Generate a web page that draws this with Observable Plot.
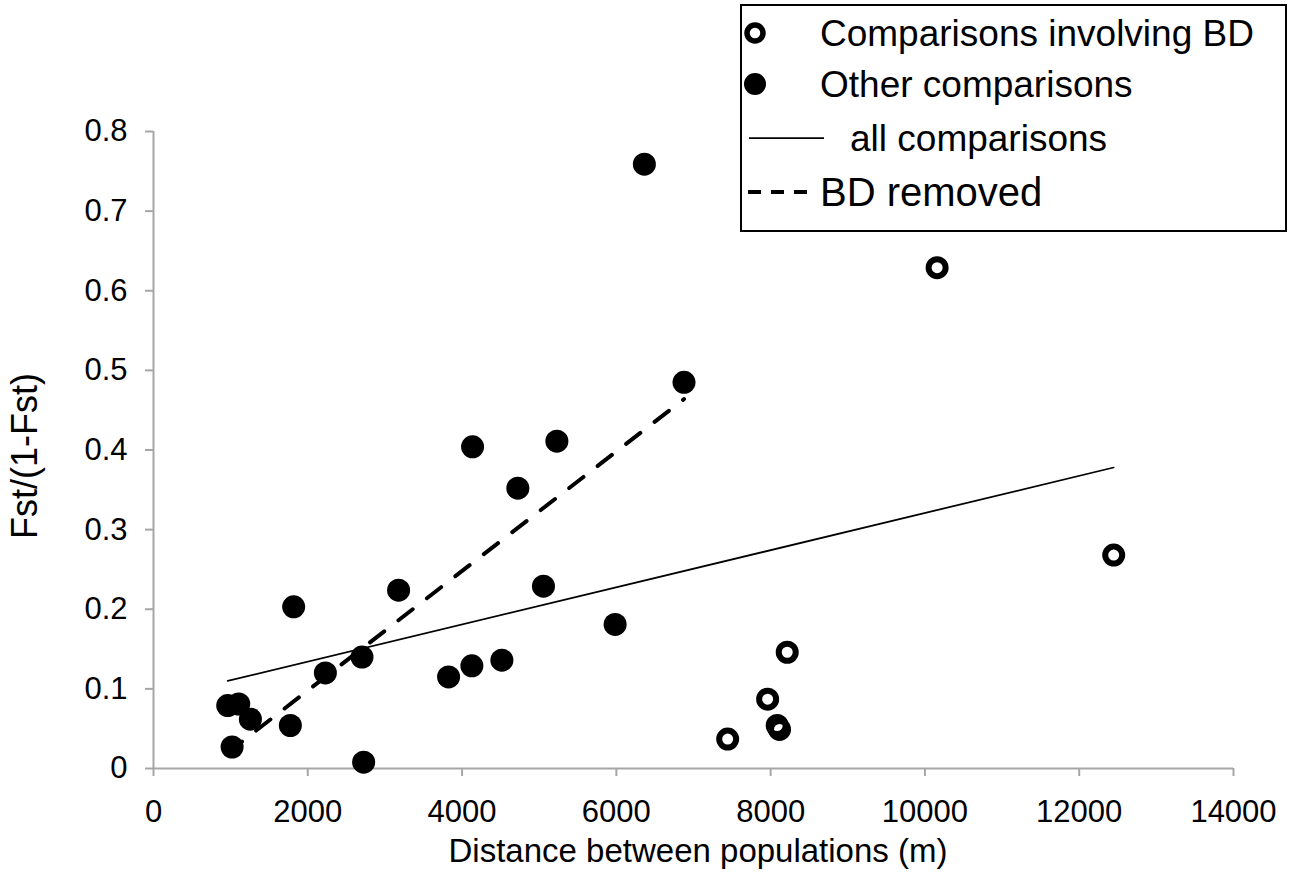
<!DOCTYPE html>
<html>
<head>
<meta charset="utf-8">
<script src="https://cdn.jsdelivr.net/npm/d3@7"></script>
<script src="https://cdn.jsdelivr.net/npm/@observablehq/plot@0.6"></script>
<style>
  body { margin: 0; background: #fff; font-family: "Liberation Sans", Arial, sans-serif; }
  #wrap { position: relative; width: 1295px; height: 873px; overflow: hidden; }
  #legend { position: absolute; left: 740px; top: 4px; }
</style>
</head>
<body>
<div id="wrap"></div>
<script>
// ---- Data ----
const otherX = [962, 1105, 1256, 1019, 1817, 1774, 2228, 2703, 2724, 3177, 3825, 4127, 4516, 5055, 5984, 4136, 5229, 4723, 6877, 6363];
const otherY = [0.079, 0.081, 0.062, 0.027, 0.203, 0.054, 0.120, 0.140, 0.008, 0.224, 0.115, 0.129, 0.136, 0.229, 0.181, 0.404, 0.411, 0.352, 0.485, 0.759];

const bdX = [7443, 7961, 8085, 8115, 8215, 10158, 12447];
const bdY = [0.037, 0.087, 0.054, 0.049, 0.146, 0.629, 0.268];

const trendAllX = [962, 12447];
const trendAllY = [0.110, 0.378];
const trendNoBdX = [962, 6877];
const trendNoBdY = [0.020, 0.464];

const xTicks = [0, 2000, 4000, 6000, 8000, 10000, 12000, 14000];
const yTicks = [0, 0.1, 0.2, 0.3, 0.4, 0.5, 0.6, 0.7, 0.8];

const legendLabels = ["Comparisons involving BD", "Other comparisons", "all comparisons", "BD removed"];
const xTitle = "Distance between populations (m)";
const yTitle = "Fst/(1-Fst)";

// ---- Build tables ----
const other = otherX.map((x, i) => ({x, y: otherY[i]}));
const bd = bdX.map((x, i) => ({x, y: bdY[i]}));
const trendAll = trendAllX.map((x, i) => ({x, y: trendAllY[i]}));
const trendNoBd = trendNoBdX.map((x, i) => ({x, y: trendNoBdY[i]}));

const FONT = '"Liberation Sans", Arial, sans-serif';
const AXIS = "#a6a6a6";

const chart = Plot.plot({
  width: 1295,
  height: 873,
  marginLeft: 153,
  marginRight: 62,
  marginTop: 131,
  marginBottom: 105,
  style: {fontFamily: FONT, fontSize: "31px", color: "#000", background: "#fff", overflow: "visible"},
  x: {domain: [0, 14000]},
  y: {domain: [0, 0.8]},
  marks: [
    Plot.axisX({ticks: xTicks, tickSize: 8, tickPadding: 23, tickFormat: d => String(d),
      stroke: AXIS, strokeWidth: 2, fill: "#000", label: null, fontSize: 31}),
    Plot.axisY({ticks: yTicks, tickSize: 8, tickPadding: 18, tickFormat: d => d === 0 ? "0" : d.toFixed(1),
      stroke: AXIS, strokeWidth: 2, fill: "#000", label: null, fontSize: 31}),
    Plot.ruleY([0], {stroke: AXIS, strokeWidth: 2}),
    Plot.ruleX([0], {stroke: AXIS, strokeWidth: 2}),
    Plot.dot(other, {x: "x", y: "y", r: 11.5, fill: "#000", stroke: "none"}),
    Plot.dot(bd, {x: "x", y: "y", r: 8.5, fill: "none", stroke: "#000", strokeWidth: 6}),
    Plot.line(trendAll, {x: "x", y: "y", stroke: "#000", strokeWidth: 1.75}),
    Plot.line(trendNoBd, {x: "x", y: "y", stroke: "#000", strokeWidth: 4, strokeDasharray: "18,18"})
  ]
});

const wrap = document.getElementById("wrap");
wrap.appendChild(chart);

// Axis titles
const svg = d3.select(chart);
svg.append("text")
  .attr("x", 698).attr("y", 862)
  .attr("text-anchor", "middle")
  .attr("font-family", FONT).attr("font-size", 33).attr("fill", "#000")
  .text(xTitle);
svg.append("text")
  .attr("transform", "translate(24,456) rotate(-90)")
  .attr("text-anchor", "middle")
  .attr("dominant-baseline", "central")
  .attr("font-family", FONT).attr("font-size", 36).attr("fill", "#000")
  .text(yTitle);

// Legend (inside the plot area, top right)
const lw = 547, lh = 228;
const leg = d3.select(wrap).append("svg")
  .attr("id", "legend")
  .attr("width", lw).attr("height", lh);
leg.append("rect").attr("x", 1).attr("y", 1).attr("width", lw - 2).attr("height", lh - 2)
  .attr("fill", "#fff").attr("stroke", "#000").attr("stroke-width", 2);
const rowY = [29, 80, 134, 188];
const rowSize = [37, 37, 37, 40];
const rowTextX = [80, 80, 110, 80];
const symX = 15;
// open ring
leg.append("circle").attr("cx", symX).attr("cy", rowY[0]).attr("r", 8)
  .attr("fill", "none").attr("stroke", "#000").attr("stroke-width", 5.5);
// filled
leg.append("circle").attr("cx", symX).attr("cy", rowY[1]).attr("r", 11).attr("fill", "#000");
// solid line
leg.append("line").attr("x1", 9).attr("x2", 84).attr("y1", rowY[2]).attr("y2", rowY[2])
  .attr("stroke", "#000").attr("stroke-width", 1.75);
// dashed line
leg.append("line").attr("x1", 8).attr("x2", 67).attr("y1", rowY[3]).attr("y2", rowY[3])
  .attr("stroke", "#000").attr("stroke-width", 4).attr("stroke-dasharray", "13,10");
legendLabels.forEach((t, i) => {
  leg.append("text")
    .attr("x", rowTextX[i])
    .attr("y", rowY[i])
    .attr("dominant-baseline", "central")
    .attr("font-family", FONT).attr("font-size", rowSize[i]).attr("fill", "#000")
    .text(t);
});
</script>
</body>
</html>
